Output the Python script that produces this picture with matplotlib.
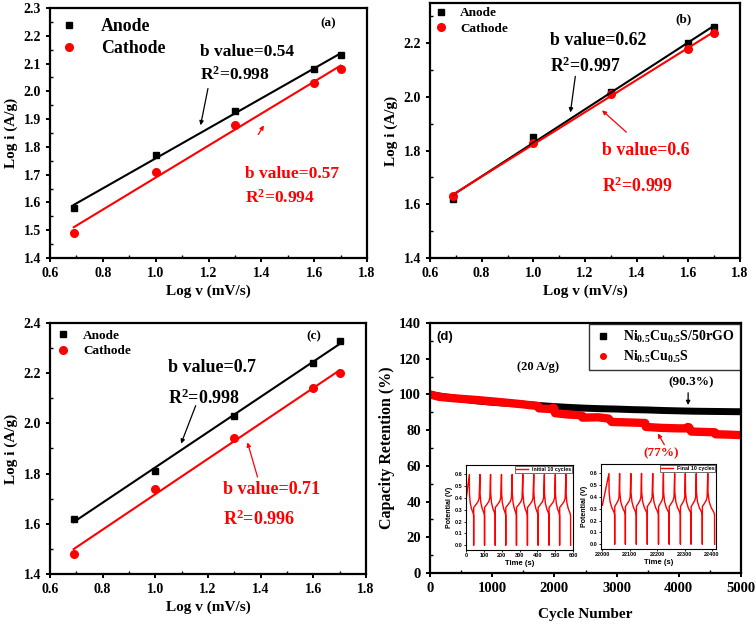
import numpy as np
import matplotlib
matplotlib.use('Agg')
import matplotlib.pyplot as plt
from matplotlib.ticker import MultipleLocator

plt.rcParams['font.family'] = ['Liberation Serif', 'DejaVu Serif']
plt.rcParams['font.weight'] = 'bold'
plt.rcParams['axes.labelweight'] = 'bold'
plt.rcParams['mathtext.fontset'] = 'custom'
plt.rcParams['mathtext.rm'] = 'Liberation Serif:bold'
plt.rcParams['mathtext.bf'] = 'Liberation Serif:bold'
plt.rcParams['mathtext.it'] = 'Liberation Serif:bold:italic'

RED = '#ff0000'

# scan rates (log v) shared by panels a-c
log_v = [0.69, 1.0, 1.3, 1.6, 1.7]

anode_a = [1.58, 1.77, 1.93, 2.08, 2.13]
cathode_a = [1.49, 1.71, 1.88, 2.03, 2.08]
anode_b = [1.62, 1.85, 2.02, 2.20, 2.26]
cathode_b = [1.63, 1.83, 2.01, 2.18, 2.24]
anode_c = [1.62, 1.81, 2.03, 2.24, 2.33]
cathode_c = [1.48, 1.74, 1.94, 2.14, 2.20]

# cycling stability (panel d)
cyc_black = [0, 250, 500, 750, 1000, 1250, 1500, 1750, 2000, 2250, 2500, 2750,
             3000, 3250, 3500, 3750, 4000, 4250, 4500, 4750, 5000]
ret_black = [100, 98.6, 97.5, 96.4, 95.6, 95.0, 94.5, 93.8, 93.2, 92.7, 92.3, 92.0,
             91.8, 91.5, 91.3, 91.0, 90.8, 90.6, 90.5, 90.4, 90.3]
cyc_red = [0, 150, 400, 780, 1100, 1400, 1740, 1750, 1960, 1975, 1995, 2010, 2200, 2440,
           2450, 2700, 2870, 2920, 3200, 3460, 3470, 3700, 3990, 4130, 4145, 4165, 4200,
           4400, 4580, 4590, 4800, 5000]
ret_red = [100, 98.6, 97.8, 96.8, 95.8, 94.8, 93.5, 92.2, 91.8, 92.6, 92.4, 89.5, 88.8, 88.3,
           87.0, 87.2, 86.5, 84.6, 84.3, 84.0, 81.8, 81.3, 81.0, 81.0, 81.8, 81.6, 79.2,
           79.0, 78.8, 77.7, 77.5, 77.2]

# galvanostatic insets: peak (0.6 V) and trough (0 V) times
peaks_init = [18.6, 78, 137.7, 199, 259, 318.6, 380, 439.5, 501, 560.5]
troughs_init = [43, 104, 164, 223, 283, 344.5, 404, 465.5, 525, 586.6]
peaks_final = [22024, 22063, 22104, 22143, 22184, 22223, 22264, 22303, 22343, 22385]
troughs_final = [22045, 22084, 22124, 22164, 22205, 22244, 22285, 22324, 22365, 22410]


def px_axes(fig, l, t, r, b):
    W, H = 756, 624
    return fig.add_axes([l / W, 1 - b / H, (r - l) / W, (b - t) / H])


def style(ax, fs=10):
    for s in ax.spines.values():
        s.set_linewidth(1.6)
    ax.tick_params(which='major', direction='out', length=3, width=1.4, labelsize=fs)
    ax.tick_params(which='minor', direction='in', length=2, width=1.0)
    for lab in ax.get_xticklabels() + ax.get_yticklabels():
        lab.set_fontweight('bold')


def log_panel(ax, anode, cathode, ylim, ystep, tag, texts, arrows, leg):
    ax.plot(log_v, anode, 's', color='black', ms=5, label='Anode')
    ax.plot(log_v, cathode, 'o', color=RED, ms=5.5, label='Cathode')
    xx = np.array([log_v[0], log_v[-1]])
    for y, c in [(anode, 'black'), (cathode, RED)]:
        p = np.polyfit(log_v, y, 1)
        ax.plot(xx, np.polyval(p, xx), color=c, lw=1.5)
    ax.set_xlim(0.6, 1.8)
    ax.set_ylim(*ylim)
    ax.xaxis.set_major_locator(MultipleLocator(0.2))
    ax.xaxis.set_minor_locator(MultipleLocator(0.1))
    ax.yaxis.set_major_locator(MultipleLocator(ystep))
    ax.yaxis.set_minor_locator(MultipleLocator(ystep / 2))
    ax.set_xlabel('Log v (mV/s)', fontsize=11, labelpad=3)
    ax.set_ylabel('Log i (A/g)', fontsize=11, labelpad=4)
    ax.text(tag[0], tag[1], tag[2], fontsize=9.5, ha='center', va='center')
    for x, y, s, c, fs in texts:
        ax.text(x, y, s, color=c, fontsize=fs, ha='left', va='center')
    for x0, y0, x1, y1, c in arrows:
        ax.annotate('', xy=(x1, y1), xytext=(x0, y0),
                    arrowprops=dict(arrowstyle='-|>', color=c, lw=0.9,
                                    mutation_scale=6))
    ax.legend(loc='upper left', frameon=False, fontsize=leg[0],
              handletextpad=leg[1], labelspacing=leg[2],
              borderaxespad=leg[3], handlelength=1.0, borderpad=0.2)
    style(ax)


fig = plt.figure(figsize=(7.56, 6.24), dpi=100)

ax_a = px_axes(fig, 50, 8, 367, 258)
log_panel(ax_a, anode_a, cathode_a, (1.4, 2.3), 0.1, (1.652, 2.244, '(a)'),
          [(1.168, 2.14, 'b value=0.54', 'black', 12.5),
           (1.168, 2.06, 'R$^2$=0.998', 'black', 12.5),
           (1.339, 1.703, 'b value=0.57', RED, 12.5),
           (1.339, 1.616, 'R$^2$=0.994', RED, 12.5)],
          [(1.20, 2.02, 1.168, 1.868, 'black'),
           (1.383, 1.836, 1.415, 1.886, RED)],
          (12.8, 1.3, 0.3, 0.35))

ax_b = px_axes(fig, 430, 3, 740, 258)
log_panel(ax_b, anode_b, cathode_b, (1.4, 2.35), 0.2, (1.58, 2.29, '(b)'),
          [(1.065, 2.21, 'b value=0.62', 'black', 12.8),
           (1.065, 2.115, 'R$^{2}$=0.997', 'black', 12.8),
           (1.265, 1.799, 'b value=0.6', RED, 12.8),
           (1.265, 1.668, 'R$^{2}$=0.999', RED, 12.8)],
          [(1.164, 2.087, 1.142, 1.932, 'black'),
           (1.368, 1.862, 1.258, 1.957, RED)],
          (9.5, 1.0, 0.25, 0.1))

ax_c = px_axes(fig, 50, 323, 366, 574)
log_panel(ax_c, anode_c, cathode_c, (1.4, 2.4), 0.2, (1.6, 2.347, '(c)'),
          [(1.049, 2.221, 'b value=0.7', 'black', 13),
           (1.049, 2.101, 'R$^{2}$=0.998', 'black', 13),
           (1.256, 1.736, 'b value=0.71', RED, 13),
           (1.256, 1.616, 'R$^{2}$=0.996', RED, 13)],
          [(1.157, 2.081, 1.094, 1.909, 'black'),
           (1.391, 1.776, 1.347, 1.935, RED)],
          (9.5, 1.0, 0.25, 0.3))

# panel d
ax_d = px_axes(fig, 430, 323, 741, 573)
ax_d.plot(cyc_black, ret_black, color='black', lw=5, solid_joinstyle='round')
ax_d.plot(cyc_red, ret_red, color=RED, lw=6, solid_joinstyle='round')
ax_d.plot([], [], 's', color='black', ms=4, label='Ni$_{0.5}$Cu$_{0.5}$S/50rGO')
ax_d.plot([], [], 'o', color=RED, ms=4, label='Ni$_{0.5}$Cu$_{0.5}$S')
ax_d.set_xlim(0, 5000)
ax_d.set_ylim(0, 140)
ax_d.xaxis.set_major_locator(MultipleLocator(1000))
ax_d.xaxis.set_minor_locator(MultipleLocator(500))
ax_d.yaxis.set_major_locator(MultipleLocator(20))
ax_d.yaxis.set_minor_locator(MultipleLocator(10))
ax_d.set_xlabel('Cycle Number', fontsize=11, labelpad=9)
ax_d.set_ylabel('Capacity Retention (%)', fontsize=11.5, labelpad=3)
ax_d.text(110, 132, '(d)', fontsize=9.5, family='Liberation Sans', fontweight='bold',
          ha='left', va='center')
ax_d.text(1740, 115.5, '(20 A/g)', fontsize=9, ha='center', va='center')
ax_d.text(4200, 107, '(90.3%)', fontsize=9.5, ha='center', va='center')
ax_d.text(3720, 67, '(77%)', fontsize=9.5, ha='center', va='center', color=RED)
ax_d.annotate('', xy=(4150, 92.5), xytext=(4150, 102.5),
              arrowprops=dict(arrowstyle='-|>', color='black', lw=0.9, mutation_scale=6))
ax_d.annotate('', xy=(3640, 79.5), xytext=(3790, 70.5),
              arrowprops=dict(arrowstyle='-|>', color=RED, lw=0.9, mutation_scale=6))
lg = ax_d.legend(loc='upper right', fontsize=10, frameon=True, fancybox=False,
                 edgecolor='black', handletextpad=0.9, borderaxespad=0.05,
                 handlelength=1.2, labelspacing=0.25, borderpad=0.4)
lg.get_frame().set_linewidth(1.0)
style(ax_d, fs=10.5)


def gcd_path(peaks, troughs, t_start, v_start):
    t = [t_start]
    v = [v_start]
    for i, (tp, tm) in enumerate(zip(peaks, troughs)):
        t.append(tp); v.append(0.6)
        d = tm - tp
        t += [tp + 0.03 * d, tp + 0.2 * d, tp + 0.5 * d, tp + 0.9 * d, tm - 0.3, tm]
        v += [0.44, 0.36, 0.31, 0.27, 0.25, 0.0]
        if i + 1 < len(peaks):
            c = peaks[i + 1] - tm
            t += [tm + 0.3, tm + 0.3 * c, tm + 0.7 * c, tm + 0.88 * c]
            v += [0.32, 0.34, 0.37, 0.40]
    return t, v


def inset(l, t, r, b, peaks, troughs, t0, v0, xlim, xt, label):
    ax = px_axes(fig, l, t, r, b)
    tt, vv = gcd_path(peaks, troughs, t0, v0)
    ax.plot(tt, vv, color=RED, lw=1.0, label=label)
    ax.set_xlim(*xlim)
    ax.set_ylim(-0.04, 0.68)
    ax.set_xticks(xt)
    ax.set_yticks([0.0, 0.1, 0.2, 0.3, 0.4, 0.5, 0.6])
    ax.set_yticklabels(['0.0', '0.1', '0.2', '0.3', '0.4', '0.5', '0.6'])
    for s in ax.spines.values():
        s.set_linewidth(0.8)
    ax.tick_params(length=1.5, width=0.6, labelsize=4, pad=1)
    for lab in ax.get_xticklabels() + ax.get_yticklabels():
        lab.set_family('Liberation Sans')
    ax.set_xlabel('Time (s)', fontsize=5.5, family='Liberation Sans', labelpad=1)
    ax.set_ylabel('Potential (V)', fontsize=5, family='Liberation Sans', labelpad=1)
    lg = ax.legend(loc='upper right', frameon=True, fancybox=False,
                   edgecolor='black', borderpad=0.2, handlelength=2.2,
                   borderaxespad=0.1, prop={'family': 'Liberation Sans', 'size': 3.8})
    lg.get_frame().set_linewidth(0.5)
    return ax


inset(466, 465, 573, 550, peaks_init, troughs_init, 0, 0.38, (0, 600),
      [0, 100, 200, 300, 400, 500, 600], 'Initial 10 cycles')
inset(601, 464, 716, 549, peaks_final, troughs_final, 22000, 0.33, (21995, 22415),
      [22000, 22100, 22200, 22300, 22400], 'Final 10 cycles')

fig.savefig('out.png', dpi=100)
